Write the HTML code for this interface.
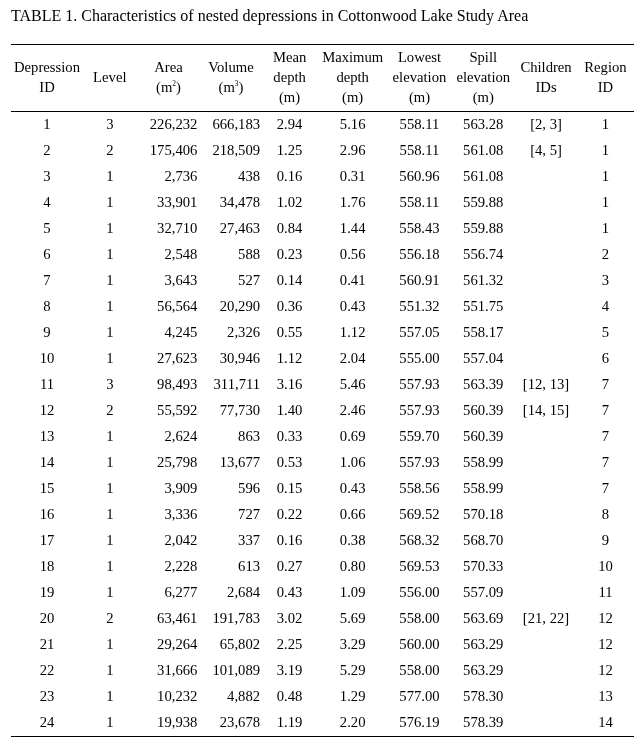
<!DOCTYPE html>
<html><head><meta charset="utf-8"><title>Table 1</title>
<style>
html,body{margin:0;padding:0;background:#fff;}
body{will-change:transform;width:644px;height:747px;overflow:hidden;position:relative;font-family:"Liberation Serif",serif;color:#000;}
.cap{position:absolute;left:11px;top:6px;font-size:16px;line-height:20px;white-space:nowrap;}
.ln{position:absolute;left:11px;width:623px;height:1px;background:#000;}
table{position:absolute;left:11px;top:45px;width:624.2px;border-collapse:collapse;border-spacing:0;font-size:14.667px;table-layout:fixed;}
th{font-weight:normal;line-height:20px;padding:2px 3px 4px;vertical-align:middle;height:60px;}
td{line-height:20px;padding:3px 3px;height:20px;text-align:center;white-space:nowrap;}
sup{font-size:7.33px;vertical-align:6px;line-height:0;}
.w0{width:72px}.w1{width:53.6px}.w2{width:63.8px}.w3{width:61.2px}.w4{width:56px}.w5{width:70.2px}.w6{width:63.4px}.w7{width:64.2px}.w8{width:60.4px}.w9{width:59.4px}
td.c2,td.c3{text-align:right}td.c3{padding-right:1.5px}
.c8{padding-left:3.5px !important;padding-right:2.5px !important}

</style></head>
<body>
<div class="ln" style="top:44px"></div><div class="ln" style="top:111px"></div><div class="ln" style="top:736px"></div>
<div class="cap">TABLE 1. Characteristics of nested depressions in Cottonwood Lake Study Area</div>
<table>
<colgroup><col class="w0"><col class="w1"><col class="w2"><col class="w3"><col class="w4"><col class="w5"><col class="w6"><col class="w7"><col class="w8"><col class="w9"></colgroup>
<thead><tr>
<th class="c0">Depression<br>ID</th>
<th class="c1">Level</th>
<th class="c2">Area<br>(m<sup>2</sup>)</th>
<th class="c3">Volume<br>(m<sup>3</sup>)</th>
<th class="c4">Mean<br>depth<br>(m)</th>
<th class="c5">Maximum<br>depth<br>(m)</th>
<th class="c6">Lowest<br>elevation<br>(m)</th>
<th class="c7">Spill<br>elevation<br>(m)</th>
<th class="c8">Children<br>IDs</th>
<th class="c9">Region<br>ID</th>
</tr></thead>
<tbody>
<tr><td class="c0">1</td><td class="c1">3</td><td class="c2">226,232</td><td class="c3">666,183</td><td class="c4">2.94</td><td class="c5">5.16</td><td class="c6">558.11</td><td class="c7">563.28</td><td class="c8">[2, 3]</td><td class="c9">1</td></tr>
<tr><td class="c0">2</td><td class="c1">2</td><td class="c2">175,406</td><td class="c3">218,509</td><td class="c4">1.25</td><td class="c5">2.96</td><td class="c6">558.11</td><td class="c7">561.08</td><td class="c8">[4, 5]</td><td class="c9">1</td></tr>
<tr><td class="c0">3</td><td class="c1">1</td><td class="c2">2,736</td><td class="c3">438</td><td class="c4">0.16</td><td class="c5">0.31</td><td class="c6">560.96</td><td class="c7">561.08</td><td class="c8"></td><td class="c9">1</td></tr>
<tr><td class="c0">4</td><td class="c1">1</td><td class="c2">33,901</td><td class="c3">34,478</td><td class="c4">1.02</td><td class="c5">1.76</td><td class="c6">558.11</td><td class="c7">559.88</td><td class="c8"></td><td class="c9">1</td></tr>
<tr><td class="c0">5</td><td class="c1">1</td><td class="c2">32,710</td><td class="c3">27,463</td><td class="c4">0.84</td><td class="c5">1.44</td><td class="c6">558.43</td><td class="c7">559.88</td><td class="c8"></td><td class="c9">1</td></tr>
<tr><td class="c0">6</td><td class="c1">1</td><td class="c2">2,548</td><td class="c3">588</td><td class="c4">0.23</td><td class="c5">0.56</td><td class="c6">556.18</td><td class="c7">556.74</td><td class="c8"></td><td class="c9">2</td></tr>
<tr><td class="c0">7</td><td class="c1">1</td><td class="c2">3,643</td><td class="c3">527</td><td class="c4">0.14</td><td class="c5">0.41</td><td class="c6">560.91</td><td class="c7">561.32</td><td class="c8"></td><td class="c9">3</td></tr>
<tr><td class="c0">8</td><td class="c1">1</td><td class="c2">56,564</td><td class="c3">20,290</td><td class="c4">0.36</td><td class="c5">0.43</td><td class="c6">551.32</td><td class="c7">551.75</td><td class="c8"></td><td class="c9">4</td></tr>
<tr><td class="c0">9</td><td class="c1">1</td><td class="c2">4,245</td><td class="c3">2,326</td><td class="c4">0.55</td><td class="c5">1.12</td><td class="c6">557.05</td><td class="c7">558.17</td><td class="c8"></td><td class="c9">5</td></tr>
<tr><td class="c0">10</td><td class="c1">1</td><td class="c2">27,623</td><td class="c3">30,946</td><td class="c4">1.12</td><td class="c5">2.04</td><td class="c6">555.00</td><td class="c7">557.04</td><td class="c8"></td><td class="c9">6</td></tr>
<tr><td class="c0">11</td><td class="c1">3</td><td class="c2">98,493</td><td class="c3">311,711</td><td class="c4">3.16</td><td class="c5">5.46</td><td class="c6">557.93</td><td class="c7">563.39</td><td class="c8">[12, 13]</td><td class="c9">7</td></tr>
<tr><td class="c0">12</td><td class="c1">2</td><td class="c2">55,592</td><td class="c3">77,730</td><td class="c4">1.40</td><td class="c5">2.46</td><td class="c6">557.93</td><td class="c7">560.39</td><td class="c8">[14, 15]</td><td class="c9">7</td></tr>
<tr><td class="c0">13</td><td class="c1">1</td><td class="c2">2,624</td><td class="c3">863</td><td class="c4">0.33</td><td class="c5">0.69</td><td class="c6">559.70</td><td class="c7">560.39</td><td class="c8"></td><td class="c9">7</td></tr>
<tr><td class="c0">14</td><td class="c1">1</td><td class="c2">25,798</td><td class="c3">13,677</td><td class="c4">0.53</td><td class="c5">1.06</td><td class="c6">557.93</td><td class="c7">558.99</td><td class="c8"></td><td class="c9">7</td></tr>
<tr><td class="c0">15</td><td class="c1">1</td><td class="c2">3,909</td><td class="c3">596</td><td class="c4">0.15</td><td class="c5">0.43</td><td class="c6">558.56</td><td class="c7">558.99</td><td class="c8"></td><td class="c9">7</td></tr>
<tr><td class="c0">16</td><td class="c1">1</td><td class="c2">3,336</td><td class="c3">727</td><td class="c4">0.22</td><td class="c5">0.66</td><td class="c6">569.52</td><td class="c7">570.18</td><td class="c8"></td><td class="c9">8</td></tr>
<tr><td class="c0">17</td><td class="c1">1</td><td class="c2">2,042</td><td class="c3">337</td><td class="c4">0.16</td><td class="c5">0.38</td><td class="c6">568.32</td><td class="c7">568.70</td><td class="c8"></td><td class="c9">9</td></tr>
<tr><td class="c0">18</td><td class="c1">1</td><td class="c2">2,228</td><td class="c3">613</td><td class="c4">0.27</td><td class="c5">0.80</td><td class="c6">569.53</td><td class="c7">570.33</td><td class="c8"></td><td class="c9">10</td></tr>
<tr><td class="c0">19</td><td class="c1">1</td><td class="c2">6,277</td><td class="c3">2,684</td><td class="c4">0.43</td><td class="c5">1.09</td><td class="c6">556.00</td><td class="c7">557.09</td><td class="c8"></td><td class="c9">11</td></tr>
<tr><td class="c0">20</td><td class="c1">2</td><td class="c2">63,461</td><td class="c3">191,783</td><td class="c4">3.02</td><td class="c5">5.69</td><td class="c6">558.00</td><td class="c7">563.69</td><td class="c8">[21, 22]</td><td class="c9">12</td></tr>
<tr><td class="c0">21</td><td class="c1">1</td><td class="c2">29,264</td><td class="c3">65,802</td><td class="c4">2.25</td><td class="c5">3.29</td><td class="c6">560.00</td><td class="c7">563.29</td><td class="c8"></td><td class="c9">12</td></tr>
<tr><td class="c0">22</td><td class="c1">1</td><td class="c2">31,666</td><td class="c3">101,089</td><td class="c4">3.19</td><td class="c5">5.29</td><td class="c6">558.00</td><td class="c7">563.29</td><td class="c8"></td><td class="c9">12</td></tr>
<tr><td class="c0">23</td><td class="c1">1</td><td class="c2">10,232</td><td class="c3">4,882</td><td class="c4">0.48</td><td class="c5">1.29</td><td class="c6">577.00</td><td class="c7">578.30</td><td class="c8"></td><td class="c9">13</td></tr>
<tr><td class="c0">24</td><td class="c1">1</td><td class="c2">19,938</td><td class="c3">23,678</td><td class="c4">1.19</td><td class="c5">2.20</td><td class="c6">576.19</td><td class="c7">578.39</td><td class="c8"></td><td class="c9">14</td></tr>
</tbody>
</table>
</body></html>
